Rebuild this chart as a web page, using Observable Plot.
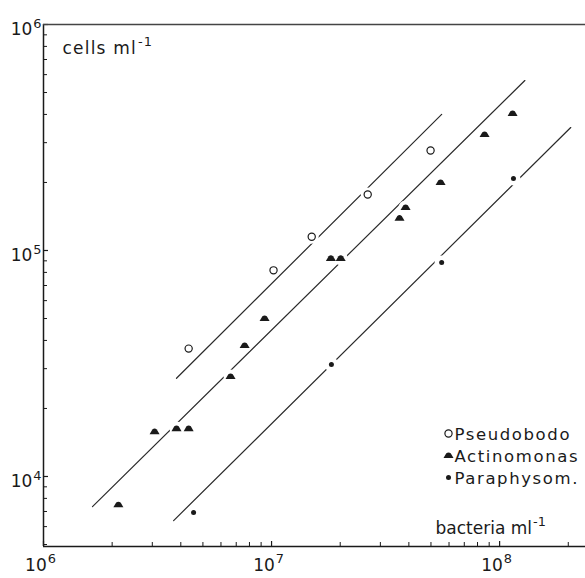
<!DOCTYPE html>
<html><head><meta charset="utf-8">
<script src="https://cdn.jsdelivr.net/npm/d3@7"></script>
<script src="https://cdn.jsdelivr.net/npm/@observablehq/plot@0.6"></script>
<style>
body{margin:0;background:#fff;}
#chart{position:relative;width:585px;height:578px;overflow:hidden;}
</style></head><body><div id="chart"></div>
<script>
// ---- data ----
const series = ["Pseudobodo", "Actinomonas", "Paraphysom."];

const pseudobodoX = [4.33e6, 1.02e7, 1.50e7, 2.64e7, 4.98e7];
const pseudobodoY = [3.68e4, 8.17e4, 1.15e5, 1.77e5, 2.77e5];

const actinomonasX = [2.13e6, 3.07e6, 3.83e6, 4.33e6, 6.61e6, 7.62e6, 9.32e6, 1.82e7, 2.01e7, 3.64e7, 3.87e7, 5.51e7, 8.59e7, 1.14e8];
const actinomonasY = [7.5e3, 1.58e4, 1.63e4, 1.63e4, 2.77e4, 3.80e4, 5.0e4, 9.23e4, 9.23e4, 1.39e5, 1.55e5, 2.00e5, 3.26e5, 4.04e5];

const paraphysomX = [4.55e6, 1.83e7, 5.57e7, 1.15e8];
const paraphysomY = [6.93e3, 3.13e4, 8.85e4, 2.08e5];

// fitted regression lines (end points)
const pseudobodoLineX = [3.83e6, 5.57e7];
const pseudobodoLineY = [2.72e4, 4.0e5];
const actinomonasLineX = [1.64e6, 1.29e8];
const actinomonasLineY = [7.36e3, 5.65e5];
const paraphysomLineX = [3.72e6, 2.05e8];
const paraphysomLineY = [6.38e3, 3.50e5];

// axes
const xDomain = [1e6, 2.38e8];
const yDomain = [4.9e3, 1e6];
const xMajor = [1e6, 1e7, 1e8];
const xMinor = [2e6, 3e6, 4e6, 5e6, 6e6, 7e6, 8e6, 9e6, 2e7, 3e7, 4e7, 5e7, 6e7, 7e7, 8e7, 9e7, 2e8];
const yMajor = [1e4, 1e5, 1e6];
const yMinor = [5e3, 6e3, 7e3, 8e3, 9e3, 2e4, 3e4, 4e4, 5e4, 6e4, 7e4, 8e4, 9e4, 2e5, 3e5, 4e5, 5e5, 6e5, 7e5, 8e5, 9e5];
const yTitle = "cells ml^-1";
const xTitle = "bacteria ml^-1";

// ---- build tables ----
const zip = (name, xs, ys) => xs.map((x, i) => ({series: name, x, y: ys[i]}));
const points = [
  ...zip(series[0], pseudobodoX, pseudobodoY),
  ...zip(series[1], actinomonasX, actinomonasY),
  ...zip(series[2], paraphysomX, paraphysomY)
];
const lines = [
  ...zip(series[0], pseudobodoLineX, pseudobodoLineY),
  ...zip(series[1], actinomonasLineX, actinomonasLineY),
  ...zip(series[2], paraphysomLineX, paraphysomLineY)
];

const ink = "#1a1a1a";
const dome = {
  draw(ctx, size) {
    const k = Math.sqrt(size / Math.PI) / 4.5;
    ctx.moveTo(-5 * k, 2.6 * k);
    ctx.lineTo(-2.2 * k, -2.2 * k);
    ctx.quadraticCurveTo(0, -3.9 * k, 2.2 * k, -2.2 * k);
    ctx.lineTo(5 * k, 2.6 * k);
    ctx.closePath();
  }
};
const style = {
  [series[0]]: {symbol: "circle", r: 3.6, fill: "white", stroke: ink, strokeWidth: 1.2},
  [series[1]]: {symbol: dome, r: 4.5, fill: ink, stroke: "none"},
  [series[2]]: {symbol: "circle", r: 2.5, fill: ink, stroke: "none"}
};

const W = 585, H = 578, mL = 43, mT = 24, mB = 32, mR = 0;
const frameH = H - mT - mB, frameW = W - mL - mR;
const fmt = d => "10^" + Math.round(Math.log10(d));
const font = "'DejaVu Sans', sans-serif";

const legendRowY = [-113, -91, -69];

const marks = [
  // ticks (inward)
  Plot.ruleX(xMinor, {x: d => d, insetTop: frameH - 4, stroke: ink, strokeWidth: 1}),
  Plot.ruleX(xMajor, {x: d => d, insetTop: frameH - 5, stroke: ink, strokeWidth: 1.2}),
  Plot.ruleY(yMinor, {y: d => d, insetRight: frameW - 4, stroke: ink, strokeWidth: 1}),
  Plot.ruleY(yMajor, {y: d => d, insetRight: frameW - 5, stroke: ink, strokeWidth: 1.2}),
  // frame
  Plot.ruleX([xDomain[0]], {stroke: ink, strokeWidth: 1.5}),
  Plot.ruleY([yDomain[0]], {stroke: ink, strokeWidth: 1.5}),
  Plot.ruleY([yDomain[1]], {stroke: "#444", strokeWidth: 1.5}),
  // tick labels
  Plot.axisX(xMajor, {tickSize: 0, tickPadding: 12, tickFormat: fmt, fontSize: 17, dx: -3, fill: ink, label: null}),
  Plot.axisY(yMajor, {tickSize: 0, tickPadding: 2, tickFormat: fmt, fontSize: 17, dy: 5, fill: ink, label: null}),
  // regression lines
  Plot.line(lines, {x: "x", y: "y", z: "series", stroke: "#2a2a2a", strokeWidth: 1.2}),
  // halos that break the lines around points
  Plot.dot(points, {x: "x", y: "y", r: 7, fill: "white", stroke: "none"}),
  // points
  ...series.map(s => Plot.dot(points.filter(p => p.series === s), {x: "x", y: "y", ...style[s]})),
  // axis titles
  Plot.text([yTitle], {frameAnchor: "top-left", dx: 19, dy: 29, text: d => d, textAnchor: "start", lineAnchor: "bottom", fontSize: 17, fill: ink}),
  Plot.text([xTitle], {frameAnchor: "bottom-left", dx: 392, dy: -13, text: d => d, textAnchor: "start", lineAnchor: "bottom", fontSize: 17, fill: ink}),
  // legend
  ...series.map((s, i) => Plot.dot([s], {frameAnchor: "bottom-left", dx: 405, dy: legendRowY[i], ...style[s]})),
  ...series.map((s, i) => Plot.text([s], {frameAnchor: "bottom-left", dx: 411, dy: legendRowY[i] + 1, text: d => d, textAnchor: "start", lineAnchor: "middle", fontSize: 16.5, fill: ink}))
];

const svg = Plot.plot({
  width: W, height: H,
  marginLeft: mL, marginRight: mR, marginTop: mT, marginBottom: mB,
  x: {type: "log", domain: xDomain, label: null},
  y: {type: "log", domain: yDomain, label: null},
  style: {fontFamily: font, background: "white", color: ink, overflow: "hidden"},
  marks
});

// superscripts: "base^sup" -> base + raised tspan
d3.select(svg).selectAll("text").each(function () {
  const t = this.textContent;
  if (series.includes(t)) this.setAttribute("letter-spacing", "1.6");
  if (t === yTitle) this.setAttribute("letter-spacing", "1.2");
  if (!t.includes("^")) return;
  const [base, sup] = t.split("^");
  while (this.firstChild) this.removeChild(this.firstChild);
  const ns = "http://www.w3.org/2000/svg";
  const b = document.createElementNS(ns, "tspan");
  b.textContent = base;
  const s = document.createElementNS(ns, "tspan");
  s.textContent = sup;
  s.setAttribute("font-size", "0.76em");
  s.setAttribute("dy", "-0.55em");
  s.setAttribute("dx", "1");
  this.appendChild(b);
  this.appendChild(s);
});

document.getElementById("chart").appendChild(svg);
</script></body></html>
